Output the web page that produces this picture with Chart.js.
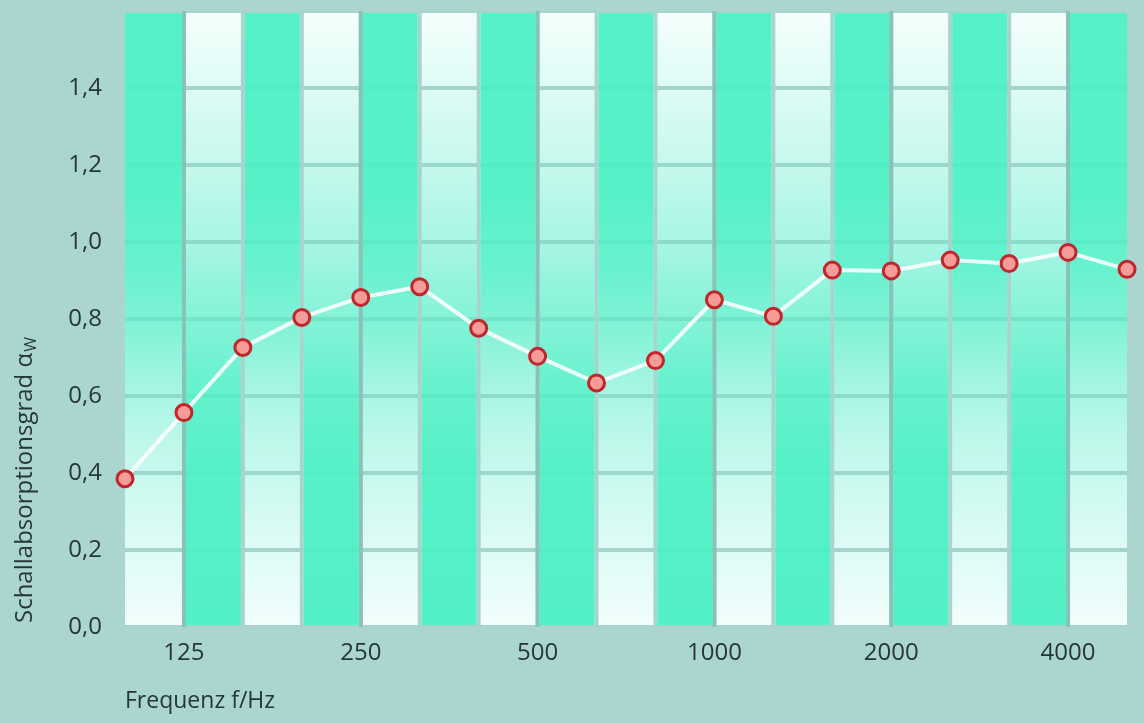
<!DOCTYPE html>
<html><head><meta charset="utf-8">
<script src="https://cdn.jsdelivr.net/npm/chart.js@4/dist/chart.umd.min.js"></script>
<style>html,body{margin:0;padding:0;background:#abd5cf;} #wrap{width:1144px;height:723px;position:relative} canvas{display:block}</style>
</head><body><div id="wrap"><canvas id="c" width="1144" height="723" style="width:1144px;height:723px"></canvas></div>
<script>
const frequencies = ['100','125','160','200','250','315','400','500','630','800','1000','1250','1600','2000','2500','3150','4000','5000'];
const absorption = [0.385,0.557,0.726,0.804,0.856,0.884,0.776,0.703,0.634,0.692,0.85,0.807,0.927,0.925,0.953,0.944,0.973,0.929];
const shownFrequencyLabels = ['125','250','500','1000','2000','4000'];
const yMin = 0, yMax = 1.6, yStep = 0.2;
const yTitleMain = 'Schallabsorptionsgrad α';
const yTitleSub = 'W';
const xTitle = 'Frequenz f/Hz';

const FONT = '"Open Sans", "Noto Sans", sans-serif';
const TEXT = '#26363b';

function tealGradient(ctx, a, stops) {
  const g = ctx.createLinearGradient(0, a.top, 0, a.bottom);
  stops.forEach(([f, al]) => g.addColorStop(f, 'rgba(76,240,198,' + al + ')'));
  return g;
}

const cellsPlugin = {
  id: 'cells',
  beforeDatasetsDraw(chart) {
    const {ctx, chartArea: a, scales: {x, y}} = chart;
    ctx.save();
    ctx.fillStyle = '#a9d3cd';
    ctx.fillRect(a.left, a.top, a.right - a.left, a.bottom - a.top);
    const base = ctx.createLinearGradient(0, a.top, 0, a.bottom);
    base.addColorStop(0, '#f6fffd');
    base.addColorStop(0.12, '#e8fcf8');
    base.addColorStop(0.5, '#c8f6ee');
    base.addColorStop(0.88, '#e6fcf8');
    base.addColorStop(1, '#f2fefc');
    const gEven = tealGradient(ctx, a, [[0, 0.95], [0.3, 0.92], [0.42, 0.78], [0.5, 0.6], [0.6, 0.35], [0.7, 0.18], [0.85, 0.06], [1, 0]]);
    const gOdd = tealGradient(ctx, a, [[0, 0], [0.12, 0.06], [0.25, 0.16], [0.38, 0.32], [0.5, 0.55], [0.6, 0.78], [0.72, 0.92], [1, 0.96]]);
    const n = frequencies.length;
    const bounds = [a.left];
    for (let i = 1; i < n - 1; i++) bounds.push(x.getPixelForValue(i));
    bounds.push(a.right);
    const rows = [];
    for (let v = yMin; v <= yMax + 1e-9; v += yStep) rows.push(y.getPixelForValue(v));
    const last = bounds.length - 2;
    for (let c = 0; c <= last; c++) {
      const x0 = bounds[c] + (c > 0 ? 2 : 0);
      const x1 = bounds[c + 1] - (c < last ? 2 : 0);
      ctx.fillStyle = base;
      for (let r = 0; r < rows.length - 1; r++) {
        const yb = rows[r] - 2, yt = rows[r + 1] + 2;
        ctx.fillRect(x0, yt, x1 - x0, yb - yt);
      }
      ctx.fillStyle = c % 2 === 0 ? gEven : gOdd;
      ctx.fillRect(x0, a.top + 2, x1 - x0, a.bottom - a.top - 4);
    }
    ctx.fillStyle = '#86c4ba';
    for (let i = 1; i < n - 1; i++) {
      if (shownFrequencyLabels.includes(frequencies[i])) {
        const px = x.getPixelForValue(i);
        ctx.fillRect(px - 2, a.top, 4, a.bottom - a.top);
      }
    }
    ctx.restore();
  },
  afterDraw(chart) {
    const {ctx, chartArea: a} = chart;
    ctx.save();
    ctx.translate(25, a.bottom - 4);
    ctx.rotate(-Math.PI / 2);
    ctx.fillStyle = TEXT;
    ctx.textBaseline = 'middle';
    ctx.textAlign = 'left';
    ctx.font = '24px ' + FONT;
    ctx.fillText(yTitleMain, 0, 0);
    const w = ctx.measureText(yTitleMain).width;
    ctx.font = '16px ' + FONT;
    ctx.fillText(yTitleSub, w + 1, 6);
    ctx.restore();
  }
};

new Chart(document.getElementById('c'), {
  type: 'line',
  data: {
    labels: frequencies,
    datasets: [{
      data: absorption,
      borderColor: 'rgba(255,255,255,0.85)',
      borderWidth: 4,
      tension: 0,
      pointRadius: 8,
      pointHoverRadius: 8,
      pointBorderWidth: 3,
      pointBorderColor: '#c0262b',
      pointBackgroundColor: '#f59c98',
      clip: false
    }]
  },
  options: {
    responsive: false,
    maintainAspectRatio: false,
    animation: false,
    devicePixelRatio: 1,
    layout: {padding: {top: 8, right: 17, left: 0, bottom: 0}},
    plugins: {legend: {display: false}, tooltip: {enabled: false}},
    scales: {
      x: {
        type: 'category',
        offset: false,
        grid: {display: false, drawTicks: false},
        border: {display: false},
        ticks: {
          autoSkip: false, maxRotation: 0, padding: 12,
          color: TEXT, font: {family: FONT, size: 24},
          callback(v, i) { const l = frequencies[i]; return shownFrequencyLabels.includes(l) ? l : ''; }
        },
        title: {display: true, text: xTitle, align: 'start', color: TEXT, font: {family: FONT, size: 23}, padding: {top: 0, bottom: 8}},
        afterFit(s) { s.height = 96; s.paddingLeft = 0; s.paddingRight = 0; }
      },
      y: {
        min: yMin, max: yMax,
        grid: {display: false, drawTicks: false},
        border: {display: false},
        ticks: {
          stepSize: yStep, padding: 23, color: TEXT, font: {family: FONT, size: 24},
          callback(v) { return Math.abs(v - yMax) < 1e-6 ? '' : v.toFixed(1).replace('.', ','); }
        },
        afterFit(s) { s.width = 125; s.paddingTop = 0; s.paddingBottom = 0; }
      }
    }
  },
  plugins: [cellsPlugin]
});
</script>
</body></html>
